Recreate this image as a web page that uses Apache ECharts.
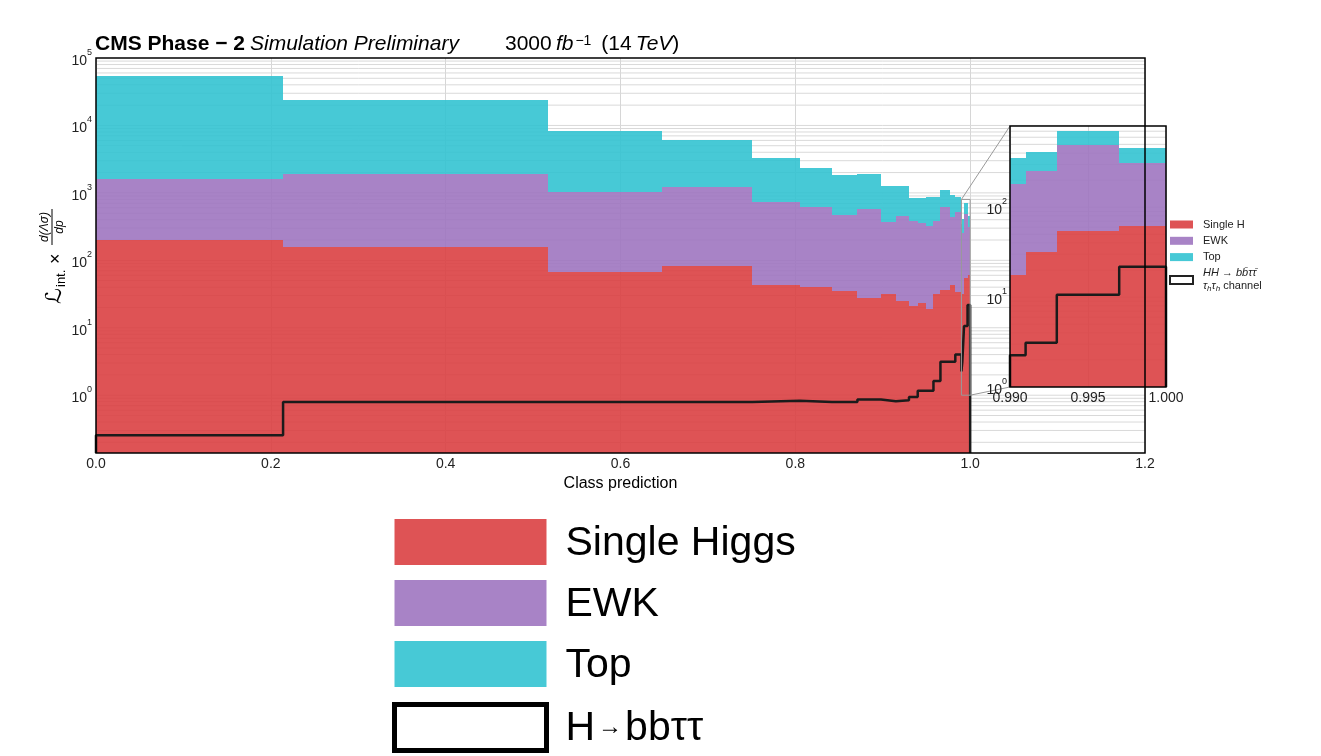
<!DOCTYPE html>
<html>
<head>
<meta charset="utf-8">
<script src="https://cdn.jsdelivr.net/npm/echarts@6/dist/echarts.min.js"></script>
<style>
  html, body { margin: 0; padding: 0; background: #fff; }
  #box { width: 1321px; height: 756px; }
</style>
</head>
<body>
<div id="box"></div>
<script>
// classifier output bins (variable width)
const binEdges = [0, 0.214, 0.517, 0.647, 0.751, 0.805, 0.842, 0.871, 0.898, 0.915, 0.930,
                  0.940, 0.950, 0.958, 0.966, 0.977, 0.983, 0.990, 0.991, 0.993, 0.997, 1.0];
// per-process yields (stacked in the plot)
const singleH = [199, 160, 66.5, 83, 43.5, 40.7, 35.5, 27.3, 31.3, 24.9, 21.2, 23.0, 19.0, 31.7, 36.3, 43.1, 33.6, 17.4, 31.6, 54, 61.5];
const ewk     = [1420, 1760, 950, 1150, 695, 587, 438, 547, 345, 436, 364, 333, 309, 353, 579, 403, 484, 162, 219, 435, 249];
const topBkg  = [52100, 22300, 7160, 4920, 2510, 1710, 1340, 1330, 869, 814, 441, 470, 527, 470, 471, 469, 348, 169, 160, 210, 146];
// HH signal (step line)
const signal  = [0.255, 0.795, 0.795, 0.795, 0.83, 0.795, 0.795, 0.863, 0.815, 0.843, 0.94, 1.16, 1.16, 1.63, 3.13, 3.13, 4.03, 2.25, 3.1, 10.6, 21.7];

const xTicks = [0, 0.2, 0.4, 0.6, 0.8, 1.0, 1.2];
const insetTicks = [0.990, 0.995, 1.000];
const yRange = [0.139, 1e5];
const insetX = [0.990, 1.000];
const insetY = [1, 800];

const FONT = 'Liberation Sans';
const colors = { h: '#da4043', ewk: '#9e76c0', top: '#33c3d1' };

// build stacked rectangles [lo, hi, base, top]
function stackData(firstBin, floor) {
  const out = { h: [], ewk: [], top: [] };
  for (let i = firstBin; i < singleH.length; i++) {
    const lo = binEdges[i], hi = binEdges[i + 1];
    const c1 = singleH[i], c2 = c1 + ewk[i], c3 = c2 + topBkg[i];
    out.h.push([lo, hi, floor, c1]);
    out.ewk.push([lo, hi, c1, c2]);
    out.top.push([lo, hi, c2, c3]);
  }
  return out;
}
function stepLine(firstBin, floor) {
  const pts = [[binEdges[firstBin], floor]];
  for (let i = firstBin; i < signal.length; i++) {
    pts.push([binEdges[i], signal[i]]);
    pts.push([binEdges[i + 1], signal[i]]);
  }
  pts.push([binEdges[binEdges.length - 1], floor]);
  return pts;
}
function minorLines(lo, hi, x0) {
  const out = [];
  for (let e = -2; e <= 5; e++) {
    for (let k = 1; k <= 9; k++) {
      const v = k * Math.pow(10, e);
      if (v > lo * 1.001 && v < hi * 0.999) out.push([x0, v]);
    }
  }
  return out;
}

function barItem(color) {
  return function (params, api) {
    const a = api.coord([api.value(0), api.value(3)]);
    const b = api.coord([api.value(1), api.value(2)]);
    // snap to whole pixels so neighbouring bins do not leave seams
    const x0 = Math.round(a[0]), x1 = Math.round(b[0]);
    const y0 = Math.round(a[1]), y1 = Math.round(b[1]);
    return {
      type: 'rect',
      shape: { x: x0, y: y0, width: Math.max(x1 - x0, 1), height: y1 - y0 },
      style: { fill: color, opacity: 0.9 }
    };
  };
}
function hLine(x0, x1) {
  return function (params, api) {
    const a = api.coord([x0, api.value(1)]);
    const b = api.coord([x1, api.value(1)]);
    return {
      type: 'line',
      shape: { x1: a[0], y1: a[1], x2: b[0], y2: b[1] },
      style: { stroke: '#d9d9d9', lineWidth: 1 }
    };
  };
}

function isDecade(v) {
  const e = Math.log10(v);
  return Math.abs(e - Math.round(e)) < 1e-6;
}
function powLabel(v) {
  if (!isDecade(v)) return '';
  return '{b|10}{s|' + Math.round(Math.log10(v)) + '}';
}
const powRich = {
  b: { fontSize: 14, fontFamily: FONT, color: '#222', verticalAlign: 'bottom', padding: [6, 0, 0, 0] },
  s: { fontSize: 9, fontFamily: FONT, color: '#222', verticalAlign: 'top' }
};

const mainStack = stackData(0, yRange[0]);
const insetStack = stackData(17, insetY[0]);

let myChart = echarts.init(document.getElementById('box'));

let option = {
  animation: false,
  title: [
    {
      left: 95, top: 34, padding: 0,
      text: '{b|CMS Phase \u2212 2} {i|Simulation Preliminary}',
      textStyle: {
        fontWeight: 'normal',
        rich: {
          b: { fontSize: 21, fontWeight: 'bold', fontFamily: FONT, color: '#000' },
          i: { fontSize: 21, fontWeight: 'normal', fontStyle: 'italic', fontFamily: FONT, color: '#000' }
        }
      }
    },
    {
      left: 505, top: 34, padding: 0,
      text: '{n|3000\u2009}{i|fb}{s|\u22121}{n| (14\u2009}{i|TeV}{n|)}',
      textStyle: {
        fontWeight: 'normal',
        rich: {
          n: { fontSize: 21, fontWeight: 'normal', fontFamily: FONT, color: '#000', verticalAlign: 'bottom' },
          i: { fontSize: 21, fontWeight: 'normal', fontStyle: 'italic', fontFamily: FONT, color: '#000', verticalAlign: 'bottom' },
          s: { fontSize: 14, fontWeight: 'normal', fontFamily: FONT, color: '#000', verticalAlign: 'top', padding: [0, 4, 0, 2] }
        }
      }
    }
  ],
  legend: [
    {
      // small legend to the right of the plot
      left: 1169, top: 218, orient: 'vertical', padding: 0,
      itemWidth: 23, itemHeight: 8, itemGap: 3.3, icon: 'rect',
      selectedMode: false,
      data: [
        { name: 'Single H' }, { name: 'EWK' }, { name: 'Top' },
        { name: 'signal', itemStyle: { color: '#fff', borderColor: '#222', borderWidth: 2 } }
      ],
      formatter: function (name) {
        if (name === 'signal') {
          return '{i|HH \u2192 bb\u0304\u03c4\u03c4\u0304}\n{i|\u03c4}{sub|h}{i|\u03c4}{sub|h}{n| channel}';
        }
        return name;
      },
      textStyle: {
        fontSize: 11, lineHeight: 13, fontFamily: FONT, color: '#222', padding: [0, 0, 0, 5],
        rich: {
          i: { fontSize: 11, lineHeight: 13, fontStyle: 'italic', fontFamily: FONT, color: '#222' },
          sub: { fontSize: 8, lineHeight: 13, fontStyle: 'italic', fontFamily: FONT, color: '#222', verticalAlign: 'bottom' },
          n: { fontSize: 11, lineHeight: 13, fontFamily: FONT, color: '#222' }
        }
      }
    },
    {
      // large legend below the plot
      left: 392, top: 519, orient: 'vertical', padding: 0, height: 400,
      itemWidth: 152, itemHeight: 46, itemGap: 15, icon: 'rect',
      selectedMode: false,
      data: [
        { name: 'Single H' }, { name: 'EWK' }, { name: 'Top' },
        { name: 'signal', itemStyle: { color: '#fff', borderColor: '#000', borderWidth: 5 } }
      ],
      formatter: function (name) {
        if (name === 'Single H') return 'Single Higgs';
        if (name === 'signal') return '{a|H}{r|\u2192}{a|bb\u03c4\u03c4}';
        return name;
      },
      textStyle: {
        fontSize: 41, lineHeight: 43, fontFamily: FONT, color: '#000', padding: [3, 0, 0, 14],
        rich: {
          a: { fontSize: 41, lineHeight: 43, fontFamily: FONT, color: '#000' },
          r: { fontSize: 24, fontFamily: FONT, color: '#000', verticalAlign: 'bottom', padding: [0, 3, 11, 3] }
        }
      }
    }
  ],
  grid: [
    { left: 96, top: 58, width: 1049, height: 395, show: false },
    { left: 1010, top: 126, width: 156, height: 261, show: true, backgroundColor: '#fff', borderWidth: 0, z: 10 }
  ],
  xAxis: [
    {
      gridIndex: 0, type: 'value', min: xTicks[0], max: xTicks[xTicks.length - 1], interval: 0.2,
      name: 'Class prediction', nameLocation: 'middle', nameGap: 20,
      nameTextStyle: { fontSize: 16, fontFamily: FONT, color: '#000' },
      axisLine: { show: false }, axisTick: { show: false },
      axisLabel: { fontSize: 14, fontFamily: FONT, color: '#222', margin: 4, formatter: v => v.toFixed(1) },
      splitLine: { show: true, lineStyle: { color: '#d6d6d6', width: 1 } }
    },
    {
      gridIndex: 1, type: 'value', min: insetX[0], max: insetX[1], interval: 0.005, z: 11,
      axisLine: { show: false }, axisTick: { show: false },
      axisLabel: { fontSize: 14, fontFamily: FONT, color: '#222', margin: 4, formatter: v => v.toFixed(3) },
      splitLine: { show: true, lineStyle: { color: '#d6d6d6', width: 1 } }
    }
  ],
  yAxis: [
    {
      gridIndex: 0, type: 'log', logBase: 10, min: yRange[0], max: yRange[1],
      axisLine: { show: false }, axisTick: { show: false },
      axisLabel: { margin: 4, formatter: powLabel, rich: powRich, showMinLabel: false },
      splitLine: { show: false }
    },
    {
      gridIndex: 1, type: 'log', logBase: 10, min: insetY[0], max: insetY[1], z: 11,
      axisLine: { show: false }, axisTick: { show: false },
      axisLabel: { margin: 3, formatter: powLabel, rich: powRich, showMaxLabel: false },
      splitLine: { show: false }
    }
  ],
  series: [
    {
      name: 'grid-main', type: 'custom', xAxisIndex: 0, yAxisIndex: 0, z: 1, silent: true,
      renderItem: hLine(xTicks[0], xTicks[xTicks.length - 1]), encode: { x: 0, y: 1 },
      data: minorLines(yRange[0], yRange[1], 0)
    },
    {
      name: 'Single H', type: 'custom', xAxisIndex: 0, yAxisIndex: 0, z: 2,
      itemStyle: { color: colors.h, opacity: 0.9 },
      renderItem: barItem(colors.h), encode: { x: [0, 1], y: [2, 3] }, data: mainStack.h
    },
    {
      name: 'EWK', type: 'custom', xAxisIndex: 0, yAxisIndex: 0, z: 2,
      itemStyle: { color: colors.ewk, opacity: 0.9 },
      renderItem: barItem(colors.ewk), encode: { x: [0, 1], y: [2, 3] }, data: mainStack.ewk
    },
    {
      name: 'Top', type: 'custom', xAxisIndex: 0, yAxisIndex: 0, z: 2,
      itemStyle: { color: colors.top, opacity: 0.9 },
      renderItem: barItem(colors.top), encode: { x: [0, 1], y: [2, 3] }, data: mainStack.top
    },
    {
      name: 'signal', type: 'line', xAxisIndex: 0, yAxisIndex: 0, z: 3,
      symbol: 'none', itemStyle: { color: '#1b1b1b' },
      lineStyle: { color: '#1b1b1b', width: 2.5 },
      data: stepLine(0, yRange[0])
    },
    // inset
    {
      name: 'grid-inset', type: 'custom', xAxisIndex: 1, yAxisIndex: 1, z: 11, silent: true,
      renderItem: hLine(insetX[0], insetX[1]), encode: { x: 0, y: 1 },
      data: minorLines(insetY[0], insetY[1], insetX[0])
    },
    {
      name: 'Single H', type: 'custom', xAxisIndex: 1, yAxisIndex: 1, z: 12,
      itemStyle: { color: colors.h, opacity: 0.9 },
      renderItem: barItem(colors.h), encode: { x: [0, 1], y: [2, 3] }, data: insetStack.h
    },
    {
      name: 'EWK', type: 'custom', xAxisIndex: 1, yAxisIndex: 1, z: 12,
      itemStyle: { color: colors.ewk, opacity: 0.9 },
      renderItem: barItem(colors.ewk), encode: { x: [0, 1], y: [2, 3] }, data: insetStack.ewk
    },
    {
      name: 'Top', type: 'custom', xAxisIndex: 1, yAxisIndex: 1, z: 12,
      itemStyle: { color: colors.top, opacity: 0.9 },
      renderItem: barItem(colors.top), encode: { x: [0, 1], y: [2, 3] }, data: insetStack.top
    },
    {
      name: 'signal', type: 'line', xAxisIndex: 1, yAxisIndex: 1, z: 13,
      symbol: 'none', itemStyle: { color: '#1b1b1b' },
      lineStyle: { color: '#1b1b1b', width: 2.5 },
      data: stepLine(17, insetY[0])
    }
  ]
};

myChart.setOption(option);

// frames, zoom box and connector lines, placed through the axes
const px = (g, p) => myChart.convertToPixel({ gridIndex: g }, p);
const m0 = px(0, [xTicks[0], yRange[1]]), m1 = px(0, [xTicks[xTicks.length - 1], yRange[0]]);
const i0 = px(1, [insetX[0], insetY[1]]), i1 = px(1, [insetX[1], insetY[0]]);
const z0 = px(0, [insetX[0], insetY[1]]), z1 = px(0, [insetX[1], insetY[0]]);

myChart.setOption({
  graphic: [
    { type: 'rect', z: 50, silent: true, shape: { x: m0[0], y: m0[1], width: m1[0] - m0[0], height: m1[1] - m0[1] },
      style: { fill: null, stroke: '#000', lineWidth: 1.5 } },
    { type: 'rect', z: 50, silent: true, shape: { x: z0[0], y: z0[1], width: z1[0] - z0[0], height: z1[1] - z0[1] },
      style: { fill: null, stroke: '#999', lineWidth: 1 } },
    { type: 'line', z: 5, silent: true, shape: { x1: z0[0], y1: z0[1], x2: i0[0], y2: i0[1] },
      style: { stroke: '#999', lineWidth: 1 } },
    { type: 'line', z: 5, silent: true, shape: { x1: z1[0], y1: z1[1], x2: i0[0], y2: i1[1] },
      style: { stroke: '#999', lineWidth: 1 } },
    { type: 'rect', z: 50, silent: true, shape: { x: i0[0], y: i0[1], width: i1[0] - i0[0], height: i1[1] - i0[1] },
      style: { fill: null, stroke: '#000', lineWidth: 1.5 } },
    {
      // y-axis title: L_int. x d(Lambda sigma)/dp, rotated
      type: 'group', x: 57, y: 256, rotation: Math.PI / 2, silent: true,
      children: [
        { type: 'text', x: -48, y: -2, style: { text: '\u2112', font: 'italic 22px "DejaVu Sans"', fill: '#000', verticalAlign: 'middle' } },
        { type: 'text', x: -31, y: 4, style: { text: 'int.', font: '13px ' + FONT, fill: '#000', verticalAlign: 'middle' } },
        { type: 'text', x: -8, y: -1, style: { text: '\u00d7', font: '18px ' + FONT, fill: '#000', verticalAlign: 'middle' } },
        { type: 'text', x: 29, y: -12, style: { text: 'd(\u039b\u03c3)', font: 'italic 12px ' + FONT, fill: '#000', align: 'center', verticalAlign: 'middle' } },
        { type: 'line', shape: { x1: 11, y1: -5, x2: 47, y2: -5 }, style: { stroke: '#000', lineWidth: 1 } },
        { type: 'text', x: 29, y: 3, style: { text: 'dp', font: 'italic 12px ' + FONT, fill: '#000', align: 'center', verticalAlign: 'middle' } }
      ]
    }
  ]
});
</script>
</body>
</html>
